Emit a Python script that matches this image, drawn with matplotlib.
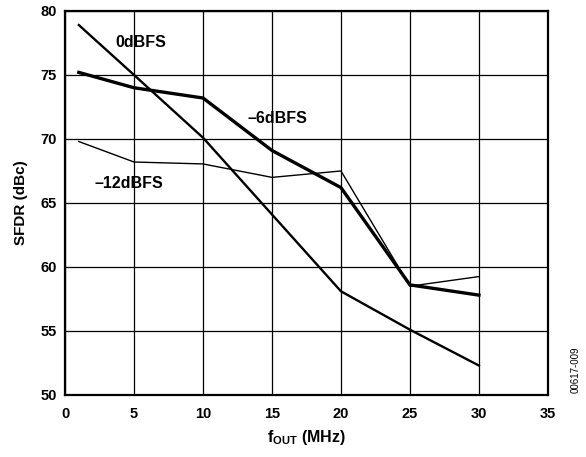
import matplotlib
matplotlib.use("Agg")
import matplotlib.pyplot as plt

plt.rcParams['font.family'] = ['Liberation Sans', 'DejaVu Sans']

freq = [1, 5, 10, 15, 20, 25, 30]
sfdr_0dbfs = [78.9, 75.0, 70.1, 64.1, 58.1, 55.1, 52.3]
sfdr_m6dbfs = [75.2, 74.0, 73.2, 69.1, 66.2, 58.6, 57.8]
sfdr_m12dbfs = [69.8, 68.2, 68.05, 67.0, 67.5, 58.5, 59.25]

xticks = [0, 5, 10, 15, 20, 25, 30, 35]
yticks = [50, 55, 60, 65, 70, 75, 80]

fig = plt.figure(figsize=(5.86, 4.57), dpi=100)
ax = fig.add_axes([0.111, 0.1357, 0.824, 0.8403])

ax.plot(freq, sfdr_0dbfs, color='black', lw=1.7)
ax.plot(freq, sfdr_m6dbfs, color='black', lw=2.4)
ax.plot(freq, sfdr_m12dbfs, color='black', lw=1.0)

ax.set_xlim(0, 35)
ax.set_ylim(50, 80)
ax.set_xticks(xticks)
ax.set_yticks(yticks)
ax.grid(True, color='black', lw=0.9)
ax.tick_params(axis='y', length=0, labelsize=10.5, pad=6)
ax.tick_params(axis='x', length=0, labelsize=10.5, pad=9)
for lab in ax.get_xticklabels() + ax.get_yticklabels():
    lab.set_fontweight('bold')
for s in ax.spines.values():
    s.set_linewidth(1.6)

ax.text(5.5, 77.55, '0dBFS', ha='center', va='center', fontsize=11.5, fontweight='bold')
ax.text(15.4, 71.6, '–6dBFS', ha='center', va='center', fontsize=11.5, fontweight='bold')
ax.text(4.6, 66.55, '–12dBFS', ha='center', va='center', fontsize=11.5, fontweight='bold')

ax.set_xlabel(r'f$_\mathregular{OUT}$ (MHz)', fontsize=11.5, fontweight='bold', labelpad=5)
ax.set_ylabel('SFDR (dBc)', fontsize=11, fontweight='bold')
ax.yaxis.set_label_coords(-0.077, 0.5)

fig.text(0.982, 0.19, '00617-009', rotation=90, ha='center', va='center', fontsize=7)

fig.savefig('out.png', dpi=100)
